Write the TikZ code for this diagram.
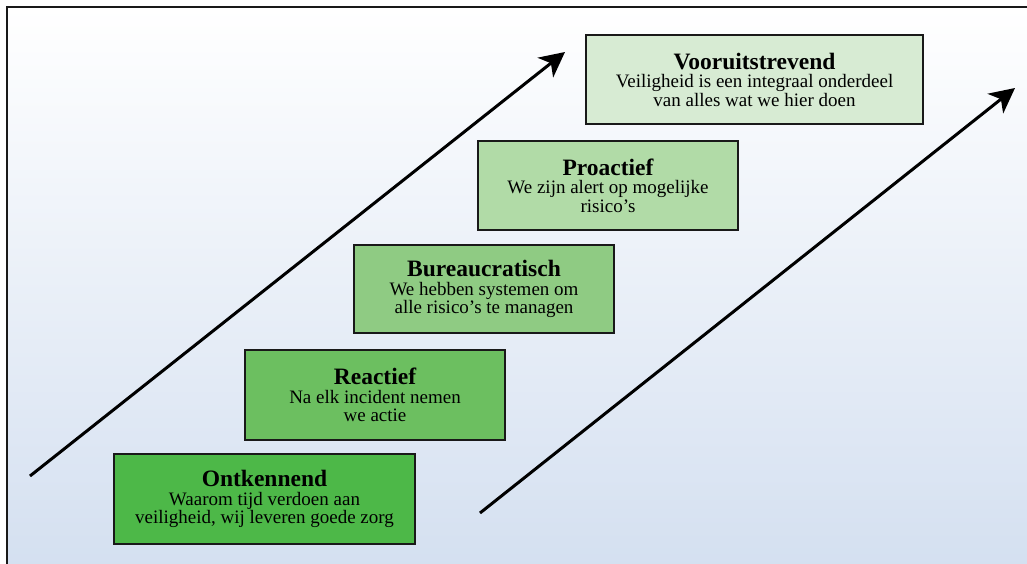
\documentclass[tikz,border=0pt]{standalone}
\usepackage{fontspec}
\setmainfont{Liberation Serif}
\usetikzlibrary{arrows.meta}
\definecolor{gA}{HTML}{4DB848}
\definecolor{gB}{HTML}{6CBF60}
\definecolor{gC}{HTML}{8FCB83}
\definecolor{gD}{HTML}{B1DBA7}
\definecolor{gE}{HTML}{D7EBD3}
\definecolor{bgbot}{RGB}{211,223,240}
\newcommand{\ttl}[1]{{\fontsize{23.5}{19}\selectfont\bfseries #1}}
\begin{document}
\begin{tikzpicture}[x=1pt,y=-1pt,
  stage/.style={draw=black!90,line width=1.4pt,align=center,inner sep=0pt,
    font=\fontsize{19}{18.5}\selectfont},
  growth/.style={line width=3pt,-{Stealth[length=25pt,width=25pt,inset=7pt]}}]
\useasboundingbox (0,0) rectangle (1027,563);
\clip (0,0) rectangle (1027,563);
\shade[top color=white,bottom color=bgbot] (7,7) rectangle (1040,580);
\draw[line width=2pt,black!90] (7,7) rectangle (1040,580);

\node[stage,fill=gA,minimum width=301pt,minimum height=90pt] (s1) at (264.5,499)
  {\ttl{Ontkennend}\\Waarom tijd verdoen aan\\veiligheid, wij leveren goede zorg};
\node[stage,fill=gB,minimum width=260pt,minimum height=90pt] (s2) at (375,395)
  {\ttl{Reactief}\\Na elk incident nemen\\we actie};
\node[stage,fill=gC,minimum width=260pt,minimum height=88pt] (s3) at (484,289)
  {\ttl{Bureaucratisch}\\We hebben systemen om\\alle risico’s te managen};
\node[stage,fill=gD,minimum width=260pt,minimum height=89pt] (s4) at (608,185.5)
  {\ttl{Proactief}\\We zijn alert op mogelijke\\risico’s};
\node[stage,fill=gE,minimum width=337pt,minimum height=89pt] (s5) at (754.5,79.5)
  {\ttl{Vooruitstrevend}\\Veiligheid is een integraal onderdeel\\van alles wat we hier doen};

\coordinate (a1s) at (30,476);
\coordinate (a1e) at (565,52);
\coordinate (a2s) at (480,513);
\coordinate (a2e) at (1015,88);
\draw[growth] (a1s) -- (a1e);
\draw[growth] (a2s) -- (a2e);
\end{tikzpicture}
\end{document}
